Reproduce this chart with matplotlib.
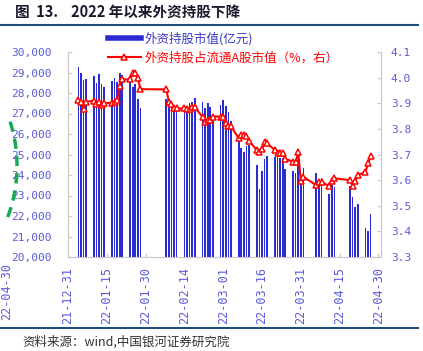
import numpy as np
import pandas as pd
import matplotlib.pyplot as plt
from matplotlib.lines import Line2D
from matplotlib.ticker import FuncFormatter

plt.rcParams['font.family'] = ['Noto Sans CJK SC', 'DejaVu Sans']

# trading days with data
dates = ['2022-01-04', '2022-01-05', '2022-01-06', '2022-01-07',
         '2022-01-10', '2022-01-11', '2022-01-12', '2022-01-13', '2022-01-14',
         '2022-01-17', '2022-01-18', '2022-01-19', '2022-01-20', '2022-01-21',
         '2022-01-24', '2022-01-25', '2022-01-26', '2022-01-27', '2022-01-28',
         '2022-02-07', '2022-02-08', '2022-02-09', '2022-02-10', '2022-02-11',
         '2022-02-14', '2022-02-15', '2022-02-16', '2022-02-17', '2022-02-18',
         '2022-02-21', '2022-02-22', '2022-02-23', '2022-02-24', '2022-02-25',
         '2022-02-28', '2022-03-01', '2022-03-02', '2022-03-03', '2022-03-04',
         '2022-03-07', '2022-03-08', '2022-03-09', '2022-03-10', '2022-03-11',
         '2022-03-14', '2022-03-15', '2022-03-16', '2022-03-17', '2022-03-18',
         '2022-03-21', '2022-03-22', '2022-03-23', '2022-03-24', '2022-03-25',
         '2022-03-28', '2022-03-29', '2022-03-30', '2022-03-31', '2022-04-01',
         '2022-04-06', '2022-04-07', '2022-04-08',
         '2022-04-11', '2022-04-12', '2022-04-13',
         '2022-04-19', '2022-04-20', '2022-04-21', '2022-04-22',
         '2022-04-25', '2022-04-26', '2022-04-27']

# 外资持股市值 (亿元)
holding = [29280, 28960, 28620, 28680,
           28840, 28470, 28930, 28440, 28310,
           28600, 28750, 28550, 28990, 28880,
           28800, 28310, 28440, 27690, 27250,
           27690, 27660, 27530, 27370, 27410,
           27300, 27330, 27500, 27580, 27740,
           27580, 27250, 27530, 27330, 26930,
           27410, 27660, 27370, 27090, 26650,
           25740, 25300, 25100, 25420, 25450,
           24490, 23300, 24200, 24780, 24940,
           24890, 24860, 24810, 24840, 24290,
           24200, 24080, 24730, 23670, 24330,
           24080, 23790, 23870,
           23070, 23510, 23400,
           23460, 22940, 22450, 22590,
           21400, 21280, 22080]

# 外资持股占流通A股市值 (%)
share = [3.912, 3.905, 3.877, 3.906,
         3.910, 3.896, 3.906, 3.893, 3.900,
         3.902, 3.905, 3.912, 3.967, 3.993,
         3.993, 4.019, 4.019, 3.997, 3.955,
         3.954, 3.905, 3.896, 3.880, 3.880,
         3.880, 3.879, 3.876, 3.884, 3.884,
         3.847, 3.828, 3.835, 3.835, 3.848,
         3.848, 3.845, 3.824, 3.812, 3.810,
         3.763, 3.776, 3.775, 3.772, 3.753,
         3.717, 3.710, 3.720, 3.750, 3.743,
         3.717, 3.707, 3.704, 3.704, 3.683,
         3.672, 3.669, 3.710, 3.596, 3.613,
         3.580, 3.593, 3.593,
         3.577, 3.597, 3.607,
         3.600, 3.577, 3.596, 3.620,
         3.632, 3.665, 3.694]

bar_label = '外资持股市值(亿元)'
line_label = '外资持股占流通A股市值（%，右）'

blue = '#2b2bd4'
tick_col = '#5a5ad8'
grey = '#c8c8c8'
mono = 'DejaVu Sans Mono'

fig = plt.figure(figsize=(4.23, 3.51), dpi=100)
ax = fig.add_axes([68/423, 94/351, 313/423, 205/351])
x = pd.to_datetime(dates)

ax.bar(x, holding, width=0.65, color=blue, zorder=2)
ax.set_ylim(20000, 30000)
ax.set_yticks(range(20000, 30001, 1000))
ax.yaxis.set_major_formatter(FuncFormatter(lambda v, p: f'{int(v):,}'))

ax.set_xlim(pd.Timestamp('2021-12-31'), pd.Timestamp('2022-05-01'))
ticks = pd.date_range('2021-12-31', '2022-04-30', freq='15D')
ax.set_xticks(ticks)
ax.set_xticklabels([t.strftime('%y-%m-%d') for t in ticks], rotation=90)

ax2 = ax.twinx()
ax2.plot(x, share, color='red', lw=1.5, marker='^', ms=4,
         mfc='white', mec='red', mew=1.1)
ax2.set_ylim(3.3, 4.1)
ax2.set_yticks(np.arange(3.3, 4.11, 0.1))
ax2.yaxis.set_major_formatter(FuncFormatter(lambda v, p: f'{v:.1f}'))

for a in (ax, ax2):
    for s in a.spines.values():
        s.set_color(grey)
    a.spines['top'].set_visible(False)
ax.spines['right'].set_visible(False)
ax2.spines['left'].set_visible(False)
ax2.spines['bottom'].set_visible(False)

ax.tick_params(axis='y', direction='in', length=3, color=grey, pad=12,
               labelcolor=tick_col, labelsize=8)
ax.tick_params(axis='x', direction='in', length=3, color=grey, pad=7,
               labelcolor=tick_col, labelsize=8.5)
ax2.tick_params(axis='y', direction='in', length=3, color=grey, pad=7,
                labelcolor=tick_col, labelsize=8)
for lab in ax.get_xticklabels() + ax.get_yticklabels() + ax2.get_yticklabels():
    lab.set_family(mono)

handles = [Line2D([], [], color=blue, lw=4),
           Line2D([], [], color='red', lw=1.5, marker='^', ms=4,
                  mfc='white', mec='red', mew=1.1)]
leg = fig.legend(handles, [bar_label, line_label], loc='upper left',
                 bbox_to_anchor=(108/423, 1 - 32/351), frameon=False,
                 fontsize=9, handlelength=2.6, handletextpad=0.3,
                 labelspacing=0.5, borderaxespad=0, borderpad=0)
leg.get_texts()[0].set_color('#3a3ac8')
leg.get_texts()[1].set_color('red')

# header / footer
fig.text(15/423, 1 - 12/351, '图  13.    2022 年以来外资持股下降', fontsize=10.5,
         fontweight='bold', va='center', color='#1a1a2e')
fig.add_artist(Line2D([0, 418/423], [1 - 25/351] * 2, color='#1f4e79', lw=1.5))
fig.add_artist(Line2D([0, 418/423], [1 - 328/351] * 2, color='#1f4e79', lw=1.5))
fig.text(22/423, 1 - 342/351, '资料来源：wind,中国银河证券研究院', fontsize=9,
         style='italic', va='center', color='#333333')

# leftover bits from the neighbouring chart (dashed green arc, cut label)
t = np.radians(np.linspace(-28.5, 25.5, 60))
fig.add_artist(Line2D(-60 + 77 * np.cos(t), 351 - 166 + 107 * np.sin(t),
                      transform=None, color='#1aaa55', lw=2.5, ls=(0, (3, 2))))
fig.text(0, 1 - 292/351, '22-04-30', rotation=90, fontsize=8.5,
         family=mono, color=tick_col, va='center', ha='left')

fig.savefig('out.png', dpi=100)
